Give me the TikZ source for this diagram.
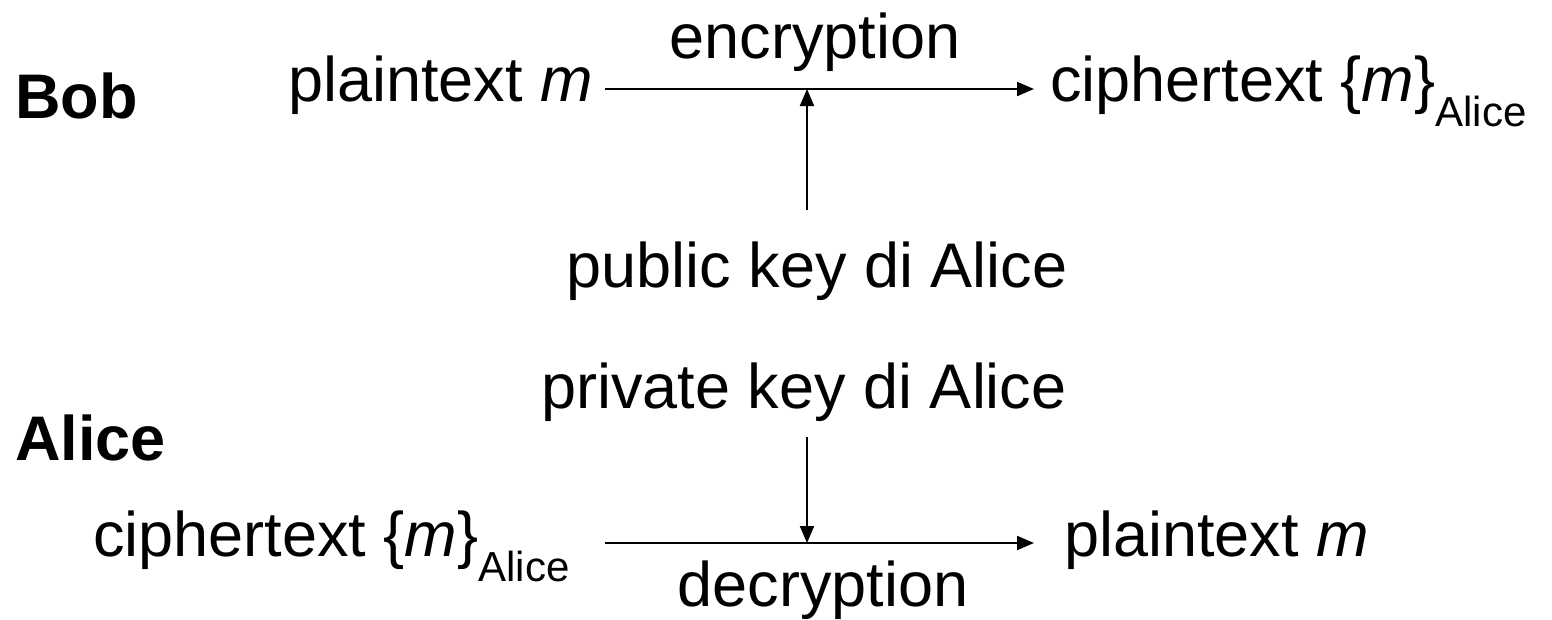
\documentclass[tikz,border=0pt]{standalone}
\usepackage{fontspec}
\setmainfont{Liberation Sans}
\usetikzlibrary{arrows.meta}
\newcommand\subAlice{\raisebox{-25pt}{\fontsize{42}{42}\selectfont Alice}}
\begin{document}
\begin{tikzpicture}[x=1pt,y=-1pt,
  lbl/.style={inner sep=0pt, anchor=base west, font=\fontsize{63}{70}\selectfont},
  who/.style={lbl, font=\fontsize{63}{70}\selectfont\bfseries},
  arr/.style={line width=2pt, -{Triangle[length=17pt,width=14pt]}}]
\useasboundingbox (0,0) rectangle (1552,619);
% top row (Bob)
\node[who] (bob) at (15,118) {Bob};
\node[lbl] (pt1) at (288,101) {plaintext \textit{m}};
\node[lbl] (ct1) at (1050,101) {ciphertext \{\textit{m}\}\subAlice};
\node[lbl, anchor=base] (enc) at (815,58) {encryption};
\node[lbl, anchor=base] (pub) at (817,287) {public key di Alice};
% bottom row (Alice)
\node[lbl, anchor=base] (priv) at (804,408) {private key di Alice};
\node[who] (alice) at (15,460) {Alice};
\node[lbl] (ct2) at (93,556) {ciphertext \{\textit{m}\}\subAlice};
\node[lbl] (pt2) at (1064,556) {plaintext \textit{m}};
\node[lbl, anchor=base] (dec) at (823,606) {decryption};
% connector points
\coordinate (encS) at (605,89);
\coordinate (encE) at (1034,89);
\coordinate (encM) at (807,89);
\coordinate (pubT) at (807,210);
\coordinate (decS) at (605,543);
\coordinate (decE) at (1034,543);
\coordinate (decM) at (807,543);
\coordinate (privB) at (807,437);
\draw[arr] (encS) -- (encE);
\draw[arr] (pubT) -- (encM);
\draw[arr] (decS) -- (decE);
\draw[arr] (privB) -- (decM);
\end{tikzpicture}
\end{document}
